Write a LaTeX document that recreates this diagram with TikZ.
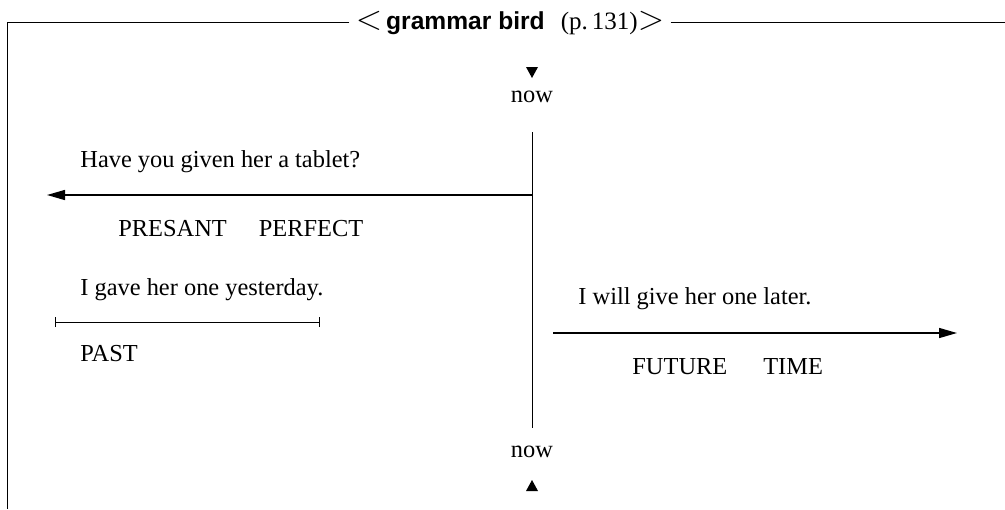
\documentclass[tikz,border=0pt]{standalone}
\usepackage{fontspec}
\setmainfont{Liberation Serif}
\newfontfamily\titlesans{Liberation Sans}
\usetikzlibrary{arrows.meta}
\begin{document}
\begin{tikzpicture}[x=0.5pt,y=-0.5pt,
  txt/.style={inner sep=0pt,font=\fontsize{12.2}{14}\selectfont},
  tline/.style={line width=0.5pt},
  arr/.style={line width=0.7pt,-{Triangle[length=9pt,width=5pt]}}]
\useasboundingbox (0,0) rectangle (1005,509);
% title
\node[inner sep=0pt,anchor=center] (title) at (510,23)
  {{\fontsize{17}{17}\selectfont$<$}\hspace{2pt}{\titlesans\bfseries\fontsize{12.3}{14}\selectfont grammar bird}\hspace{8pt}{\fontsize{12.5}{14}\selectfont (p.\,131)}{\fontsize{17}{17}\selectfont$>$}};
\coordinate (tl) at (7,22);
\coordinate (bl) at (7,509);
\coordinate (tr) at (1005,22);
\draw[tline] ([xshift=-3pt]title.west |- tl) -- (tl) -- (bl);
\draw[tline] ([xshift=3pt]title.east |- tr) -- (tr);
% now top/bottom
\node[txt] (nowtop) at (532,97) {now};
\node[txt] (nowbot) at (532,452) {now};
\fill (526,67) -- (538,67) -- (532,78) -- cycle;
\fill (526,491) -- (538,491) -- (532,480) -- cycle;
\coordinate (vtop) at (532,132);
\coordinate (vbot) at (532,428);
\draw[tline] (vtop) -- (vbot);
% present perfect
\node[txt,anchor=west] (have) at (80,162) {Have you given her a tablet?};
\coordinate (ppstart) at (532,195);
\coordinate (ppend) at (47,195);
\draw[arr] (ppstart) -- (ppend);
\node[txt,anchor=west] (pp) at (118,229) {PRESANT\hspace{16pt}PERFECT};
% past
\node[txt,anchor=west] (gave) at (80,290) {I gave her one yesterday.};
\coordinate (pa) at (55,322);
\coordinate (pb) at (320,322);
\draw[tline,{Bar[width=5pt]}-{Bar[width=5pt]}] (pa) -- (pb);
\node[txt,anchor=west] (past) at (80,354) {PAST};
% future
\node[txt,anchor=west] (will) at (578,299) {I will give her one later.};
\coordinate (fa) at (553,333);
\coordinate (fb) at (957,333);
\draw[arr] (fa) -- (fb);
\node[txt,anchor=west] (ft) at (632,367) {FUTURE\hspace{18pt}TIME};
\end{tikzpicture}
\end{document}
